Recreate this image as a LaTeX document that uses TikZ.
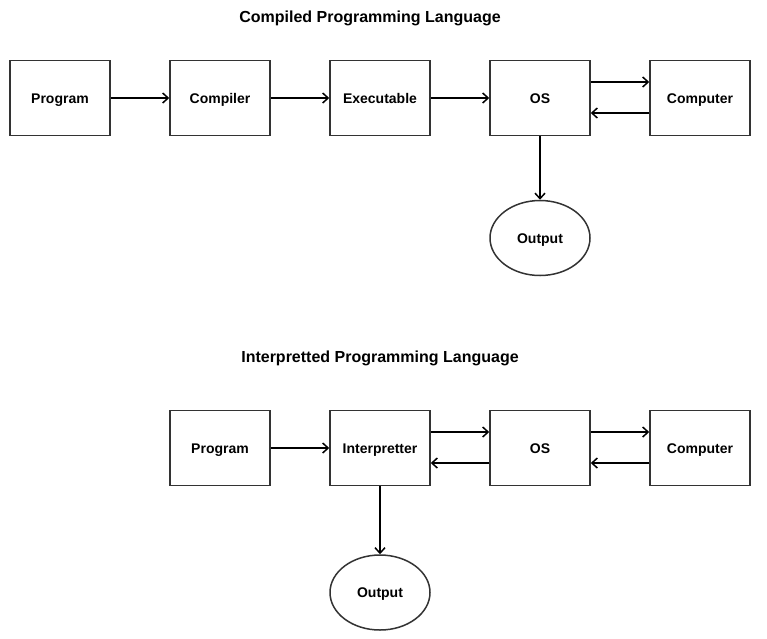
\documentclass[tikz,border=0pt]{standalone}
\usepackage{fontspec}
\setmainfont{Liberation Sans}
\usetikzlibrary{arrows.meta,shapes.geometric}
\begin{document}
\begin{tikzpicture}[x=1pt,y=-1pt,
  box/.style={draw=black!80,line width=1.5pt,minimum width=100pt,minimum height=75pt,inner sep=0pt,text height=10pt,text depth=0pt,font=\fontsize{14}{16}\selectfont\bfseries},
  outp/.style={ellipse,draw=black!80,line width=1.5pt,minimum width=100pt,minimum height=75pt,inner sep=0pt,text height=10pt,text depth=0pt,font=\fontsize{14}{16}\selectfont\bfseries},
  ttl/.style={text height=11.5pt,text depth=0pt,inner sep=0pt,font=\fontsize{16}{18}\selectfont\bfseries},
  conn/.style={draw=black,line width=1.5pt,-{Straight Barb[length=5.5pt,width=10pt,line width=1.5pt]}}]
\useasboundingbox (0,0) rectangle (767,638);
\node[ttl] (t1) at (370,17) {Compiled Programming Language};
\node[box] (p1) at (60,98) {Program};
\node[box] (c1) at (220,98) {Compiler};
\node[box] (e1) at (380,98) {Executable};
\node[box] (os1) at (540,98) {OS};
\node[box] (pc1) at (700,98) {Computer};
\node[outp] (o1) at (540,238) {Output};
\draw[conn] (p1) -- (c1);
\draw[conn] (c1) -- (e1);
\draw[conn] (e1) -- (os1);
\draw[conn] (os1.east |- 0,82) -- (pc1.west |- 0,82);
\draw[conn] (pc1.west |- 0,113) -- (os1.east |- 0,113);
\draw[conn] (os1) -- (o1);

\node[ttl] (t2) at (380,357) {Interpretted Programming Language};
\node[box] (p2) at (220,448) {Program};
\node[box] (i2) at (380,448) {Interpretter};
\node[box] (os2) at (540,448) {OS};
\node[box] (pc2) at (700,448) {Computer};
\node[outp] (o2) at (380,592.5) {Output};
\draw[conn] (p2) -- (i2);
\draw[conn] (i2.east |- 0,432) -- (os2.west |- 0,432);
\draw[conn] (os2.west |- 0,463) -- (i2.east |- 0,463);
\draw[conn] (os2.east |- 0,432) -- (pc2.west |- 0,432);
\draw[conn] (pc2.west |- 0,463) -- (os2.east |- 0,463);
\draw[conn] (i2) -- (o2);
\end{tikzpicture}
\end{document}
